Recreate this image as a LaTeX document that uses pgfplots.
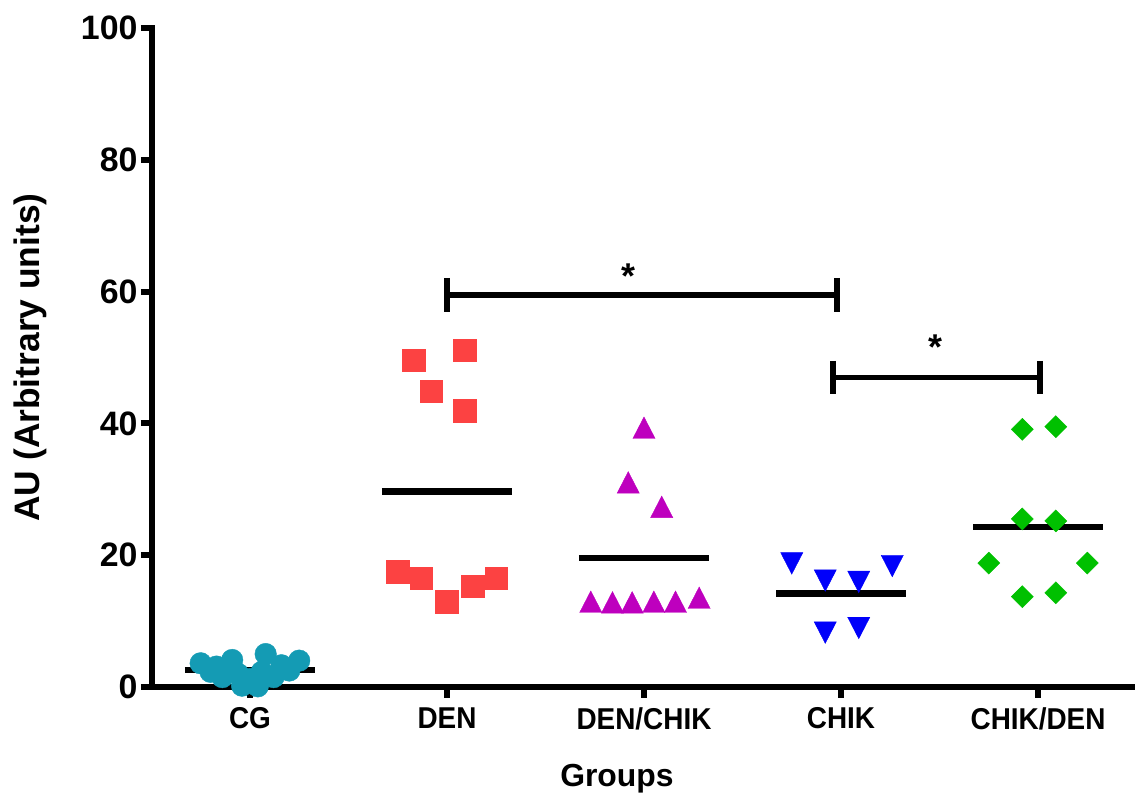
\documentclass[border=0pt]{standalone}
\usepackage{fontspec}
\setmainfont{Liberation Sans}
\usepackage{pgfplots}
\pgfplotsset{compat=1.18}
\definecolor{cgc}{RGB}{20,155,180}
\definecolor{denc}{RGB}{252,66,66}
\definecolor{dcc}{RGB}{190,0,190}
\definecolor{chc}{RGB}{0,0,250}
\definecolor{cdc}{RGB}{0,192,0}
\begin{document}
\begin{tikzpicture}
\useasboundingbox (0,0) rectangle (1135bp,803bp);
\begin{axis}[
  at={(152bp,116bp)}, anchor=south west,
  scale only axis, width=983bp, height=659bp,
  xmin=-0.497, xmax=4.492, ymin=0, ymax=100,
  axis x line=bottom, axis y line=left,
  axis line style={-, line width=6bp, line cap=rect},
  xtick={0,1,2,3,4}, xticklabels={CG,DEN,DEN/CHIK,CHIK,CHIK/DEN},
  ytick={0,20,40,60,80,100},
  tick align=outside, major tick length=11bp,
  every tick/.style={line width=6bp, black},
  x tick label style={font=\fontsize{28}{32}\selectfont\bfseries, yshift=-6bp, yscale=1.08},
  y tick label style={font=\fontsize{34}{40}\selectfont\bfseries},
  /pgf/number format/assume math mode=true,
  xlabel={Groups}, ylabel={AU (Arbitrary units)},
  xlabel style={at={(axis description cs:0.473,-0.1517)}, anchor=base, font=\fontsize{32}{38}\selectfont\bfseries},
  ylabel style={at={(axis description cs:-0.124,0.5)}, anchor=center, font=\fontsize{35.5}{40}\selectfont\bfseries},
  clip=false,
]
% CG
\addplot[only marks, mark=*, mark size=10.8bp, color=cgc, mark options={draw=none, fill=cgc}] coordinates {
 (-0.25,3.6) (-0.17,3.1) (-0.09,4.1) (-0.14,1.5) (-0.04,0.2) (0.04,0.1) (0.12,1.5) (0.08,5.0) (0.16,3.3) (0.25,4.0)
 (-0.20,2.3) (-0.06,2.0) (0.0,1.2) (0.06,2.3) (0.20,2.5)};
% DEN
\addplot[only marks, mark=square*, mark size=11.3bp, color=denc, mark options={draw=none, fill=denc}] coordinates {
 (0.83,49.6) (1.09,51.1) (0.92,44.9) (1.09,41.9) (0.75,17.5) (0.87,16.5) (1.0,12.9) (1.13,15.3) (1.25,16.5)};
% DEN/CHIK
\addplot[only marks, mark=triangle*, mark size=12.8bp, color=dcc, mark options={draw=none, fill=dcc, yscale=1.12}] coordinates {
 (2.0,38.8) (1.92,30.5) (2.09,26.8) (1.73,12.4) (1.84,12.3) (1.94,12.3) (2.05,12.4) (2.16,12.4) (2.28,13.0)};
% CHIK
\addplot[only marks, mark=triangle*, mark size=12.8bp, color=chc, mark options={draw=none, fill=chc, rotate=180, yscale=1.12}] coordinates {
 (2.75,19.3) (2.92,16.7) (3.09,16.5) (3.26,18.9) (2.92,8.8) (3.09,9.5)};
% CHIK/DEN
\addplot[only marks, mark=square*, mark size=7.8bp, color=cdc, mark options={draw=none, fill=cdc, rotate=45}] coordinates {
 (3.75,18.8) (3.92,39.1) (3.92,25.5) (3.92,13.7) (4.09,39.5) (4.09,25.2) (4.09,14.3) (4.25,18.8)};
% means
\addplot[black, line width=6.5bp, no marks] coordinates {(-0.33,2.6) (0.33,2.6)};
\addplot[black, line width=6.5bp, no marks] coordinates {(0.67,29.7) (1.33,29.7)};
\addplot[black, line width=6.5bp, no marks] coordinates {(1.67,19.6) (2.33,19.6)};
\addplot[black, line width=6.5bp, no marks] coordinates {(2.67,14.2) (3.33,14.2)};
\addplot[black, line width=6.5bp, no marks] coordinates {(3.67,24.3) (4.33,24.3)};
% brackets
\addplot[black, line width=5.5bp, no marks] coordinates {(1.0,59.5) (2.98,59.5)};
\addplot[black, line width=5.5bp, no marks] coordinates {(1.0,62.1) (1.0,56.9)};
\addplot[black, line width=5.5bp, no marks] coordinates {(2.98,62.1) (2.98,56.9)};
\addplot[black, line width=5.5bp, no marks] coordinates {(2.96,47.0) (4.01,47.0)};
\addplot[black, line width=5.5bp, no marks] coordinates {(2.96,49.5) (2.96,44.5)};
\addplot[black, line width=5.5bp, no marks] coordinates {(4.01,49.5) (4.01,44.5)};
\node[anchor=base, font=\fontsize{36}{40}\selectfont\bfseries, inner sep=0pt] at (axis cs:1.92,60.5) {*};
\node[anchor=base, font=\fontsize{36}{40}\selectfont\bfseries, inner sep=0pt] at (axis cs:3.48,49.7) {*};
\end{axis}
\end{tikzpicture}
\end{document}
